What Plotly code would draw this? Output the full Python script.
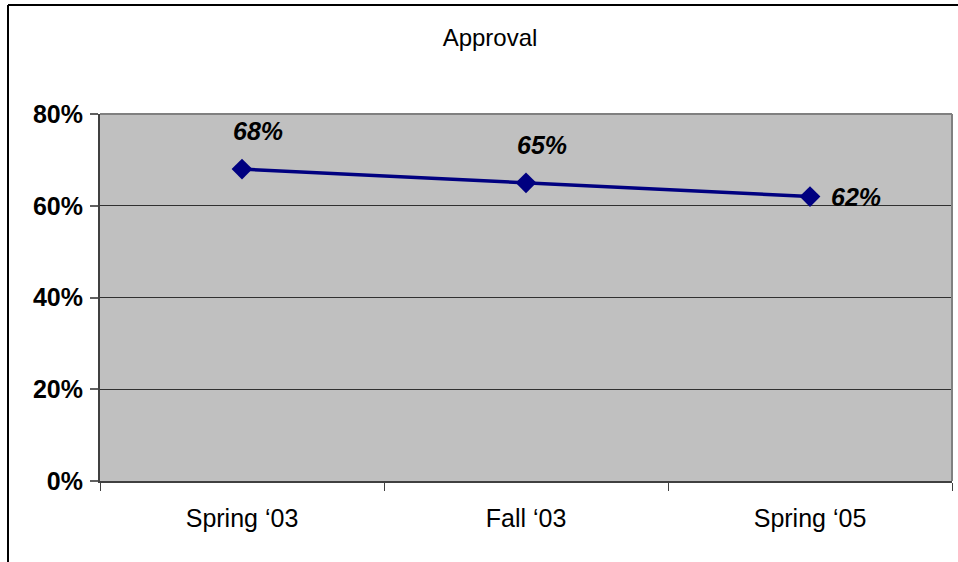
import plotly.graph_objects as go

categories = ["Spring \u201803", "Fall \u201803", "Spring \u201805"]
approval = [0.68, 0.65, 0.62]
label_texts = ["68%", "65%", "62%"]
y_tickvals = [0, 0.2, 0.4, 0.6, 0.8]
y_ticktext = ["0%", "20%", "40%", "60%", "80%"]

FONT = "Liberation Sans, Arial, sans-serif"
W, H = 958, 562
L, R, T, B = 100, 6, 114, 81
pw, ph = W - L - R, H - T - B

fig = go.Figure()
fig.add_trace(go.Scatter(
    x=categories, y=approval, mode="lines+markers",
    line=dict(color="#000080", width=3.5),
    marker=dict(symbol="diamond", size=16, color="#000080"),
    hoverinfo="skip", showlegend=False,
))

annotations = []
for i, (c, v, t) in enumerate(zip(categories, approval, label_texts)):
    if i < len(categories) - 1:
        annotations.append(dict(x=c, y=v, text=t, showarrow=False, xshift=16, yshift=38,
                                font=dict(family=FONT, size=25, color="black"),
                                xanchor="center", yanchor="middle"))
    else:
        annotations.append(dict(x=c, y=v, text=t, showarrow=False, xshift=19, yshift=0,
                                font=dict(family=FONT, size=25, color="black"),
                                xanchor="left", yanchor="middle"))
for a in annotations:
    a["text"] = "<b><i>" + a["text"] + "</i></b>"

fig.update_layout(
    width=W, height=H,
    margin=dict(l=L, r=R, t=T, b=B),
    paper_bgcolor="white", plot_bgcolor="#C0C0C0",
    title=dict(text="Approval", x=490 / W, y=1 - 38 / H, xanchor="center", yanchor="middle",
               font=dict(family=FONT, size=24, color="black")),
    annotations=annotations,
    xaxis=dict(type="category", range=[-0.5, 2.5], showgrid=False, zeroline=False,
               showline=True, linecolor="#404040", linewidth=2,
               ticks="outside", tickson="boundaries", ticklen=8, tickcolor="#404040", tickwidth=1,
               ticklabelstandoff=14,
               tickfont=dict(family=FONT, size=25, color="black"), fixedrange=True),
    yaxis=dict(range=[0, 0.8], tickvals=y_tickvals, ticktext=y_ticktext,
               showgrid=True, gridcolor="#303030", gridwidth=1, zeroline=False,
               showline=True, linecolor="#404040", linewidth=2,
               ticks="outside", ticklen=8, tickcolor="#606060", tickwidth=2,
               ticklabelstandoff=2,
               tickfont=dict(family=FONT, size=25, color="black"), fixedrange=True),
    shapes=[
        # top and right border of plot area
        dict(type="line", xref="paper", yref="paper", x0=0, x1=1, y0=1, y1=1,
             line=dict(color="#808080", width=2)),
        dict(type="line", xref="paper", yref="paper", x0=1, x1=1, y0=0, y1=1,
             line=dict(color="#808080", width=2)),
        # outer chart border (top and left)
        dict(type="line", xref="paper", yref="paper", x0=(8 - L) / pw, x1=(970 - L) / pw,
             y0=(H - B - 5) / ph, y1=(H - B - 5) / ph, line=dict(color="black", width=2)),
        dict(type="line", xref="paper", yref="paper", x0=(8 - L) / pw, x1=(8 - L) / pw,
             y0=(H - B - 5) / ph, y1=(H - B - 580) / ph, line=dict(color="black", width=2)),
    ],
)
fig.update_yaxes(tickfont_weight="bold")

fig.write_html("out.html")
